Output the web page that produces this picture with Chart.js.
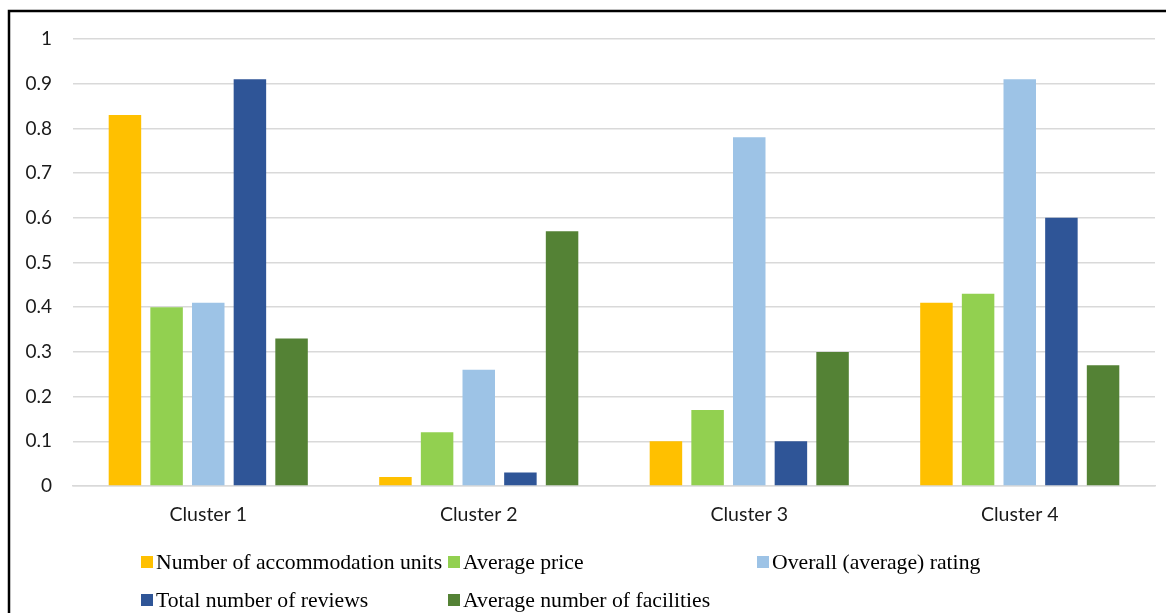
<!DOCTYPE html>
<html>
<head>
<meta charset="utf-8">
<script src="https://cdn.jsdelivr.net/npm/chart.js@4.4.1/dist/chart.umd.min.js"></script>
<style>
  html, body { margin: 0; padding: 0; background: #fff; }
  #wrap { position: relative; width: 1166px; height: 613px; }
</style>
</head>
<body>
<div id="wrap"><canvas id="c" width="1166" height="613"></canvas></div>
<script>
const categories = ['Cluster 1', 'Cluster 2', 'Cluster 3', 'Cluster 4'];
const seriesNames = [
  'Number of accommodation units',
  'Average price',
  'Overall (average) rating',
  'Total number of reviews',
  'Average number of facilities'
];
const accommodationUnits = [0.83, 0.02, 0.10, 0.41];
const averagePrice       = [0.40, 0.12, 0.17, 0.43];
const overallRating      = [0.41, 0.26, 0.78, 0.91];
const totalReviews       = [0.91, 0.03, 0.10, 0.60];
const averageFacilities  = [0.33, 0.57, 0.30, 0.27];
const yTicks = [0, 0.1, 0.2, 0.3, 0.4, 0.5, 0.6, 0.7, 0.8, 0.9, 1];

const colors = ['#FFC000', '#92D050', '#9DC3E6', '#2F5597', '#548235'];
const seriesValues = [accommodationUnits, averagePrice, overallRating, totalReviews, averageFacilities];

// Frame lines along the top and left edges
const framePlugin = {
  id: 'frame',
  beforeDraw(chart) {
    const ctx = chart.ctx;
    ctx.save();
    ctx.fillStyle = '#fff';
    ctx.fillRect(0, 0, chart.width, chart.height);
    ctx.strokeStyle = '#000';
    ctx.lineWidth = 2.5;
    ctx.beginPath();
    ctx.moveTo(9, chart.height);
    ctx.lineTo(9, 11);
    ctx.lineTo(chart.width, 11);
    ctx.stroke();
    ctx.restore();
  }
};

// Two-row legend in a serif face below the axis
const legendPlugin = {
  id: 'serifLegend',
  afterDraw(chart) {
    const ctx = chart.ctx;
    const slots = [[141, 562], [448, 562], [757, 562], [141, 600], [448, 600]];
    ctx.save();
    ctx.font = '21.7px "Liberation Serif", "Times New Roman", serif';
    ctx.textBaseline = 'middle';
    ctx.textAlign = 'left';
    chart.data.datasets.forEach((ds, i) => {
      const [x, y] = slots[i];
      ctx.fillStyle = ds.backgroundColor;
      ctx.fillRect(x, y - 6, 12, 12);
      ctx.fillStyle = '#000';
      ctx.fillText(ds.label, x + 15, y + 1);
    });
    ctx.restore();
  }
};

new Chart(document.getElementById('c'), {
  type: 'bar',
  data: {
    labels: categories,
    datasets: seriesNames.map((name, i) => ({
      label: name,
      data: seriesValues[i],
      backgroundColor: colors[i],
      borderWidth: 0,
      categoryPercentage: 0.77,
      barPercentage: 0.78
    }))
  },
  options: {
    responsive: false,
    animation: false,
    devicePixelRatio: 1,
    layout: { padding: { top: 39, right: 11, left: 0, bottom: 0 } },
    plugins: {
      legend: { display: false },
      tooltip: { enabled: false }
    },
    scales: {
      x: {
        grid: { display: false, drawTicks: false },
        border: { display: true, color: '#d9d9d9', width: 1.5 },
        ticks: {
          color: '#1a1a1a',
          padding: 17,
          font: { family: 'Lato, "Liberation Sans", sans-serif', size: 19.5 }
        },
        afterFit(scale) { scale.height = 127; }
      },
      y: {
        min: 0,
        max: 1,
        afterBuildTicks(scale) { scale.ticks = yTicks.map(v => ({ value: v })); },
        grid: { color: '#d9d9d9', lineWidth: 1.5, drawTicks: false },
        border: { display: false },
        ticks: {
          color: '#1a1a1a',
          padding: 21,
          font: { family: 'Lato, "Liberation Sans", sans-serif', size: 19 },
          callback: v => String(v)
        },
        afterFit(scale) { scale.width = 73; }
      }
    }
  },
  plugins: [framePlugin, legendPlugin]
});
</script>
</body>
</html>
